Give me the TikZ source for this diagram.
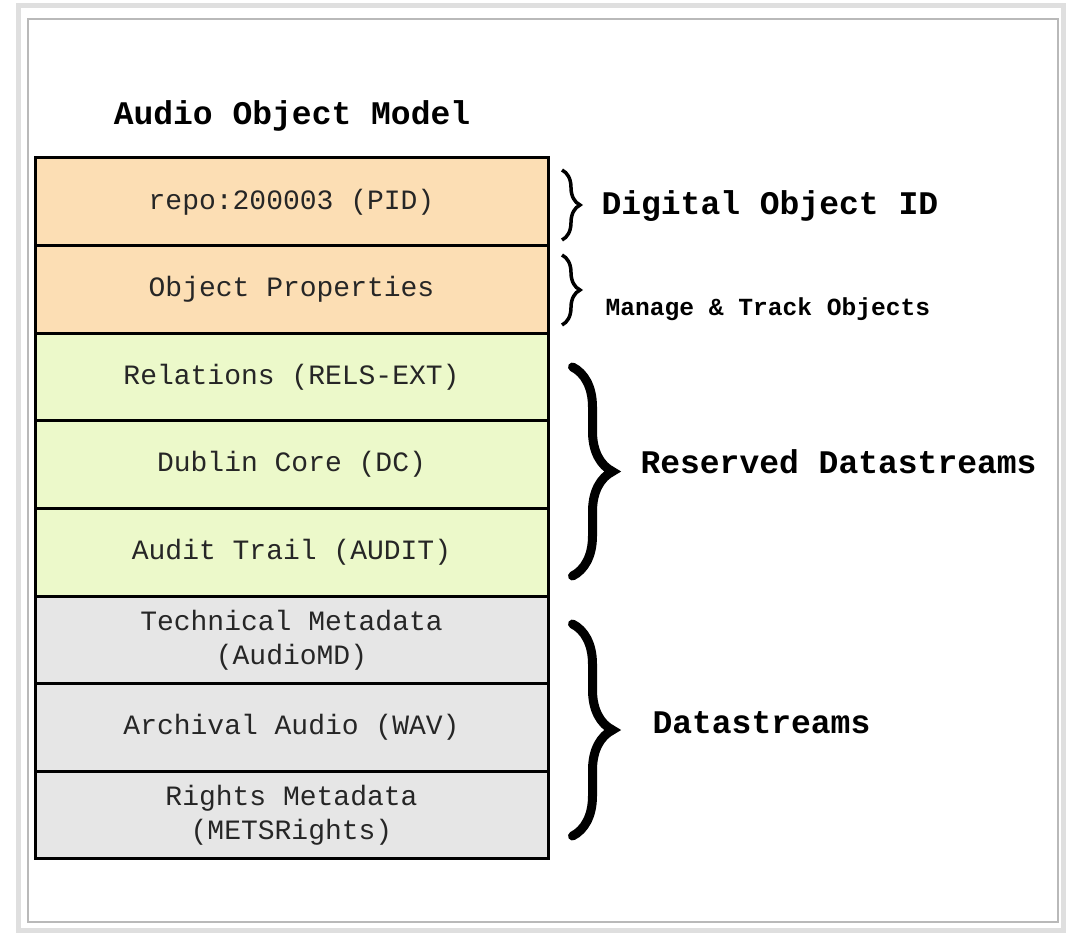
\documentclass[tikz,border=0pt]{standalone}
\usepackage{fontspec}
\newfontfamily\mono{Liberation Mono}
\usetikzlibrary{decorations.pathreplacing}
\definecolor{peach}{RGB}{252,222,180}
\definecolor{lgreen}{RGB}{236,249,202}
\definecolor{lgray}{RGB}{230,230,230}
\begin{document}
\begin{tikzpicture}[x=1pt,y=-1pt,
  layer/.style={draw=black, line width=3pt, minimum width=513pt, minimum height=87.6pt,
    inner sep=0pt, outer sep=0pt, font=\mono\fontsize{28}{34}\selectfont, text=black!85, align=center},
  sidelabel/.style={anchor=base west, font=\mono\bfseries\fontsize{33}{40}\selectfont},
  smalllabel/.style={anchor=base west, font=\mono\bfseries\fontsize{24.6}{30}\selectfont},
  bracesmall/.style={decorate, decoration={brace, amplitude=18pt}, line width=3.5pt},
  bracebig/.style={decorate, decoration={brace, amplitude=40pt}, line width=9pt, line cap=round}]
\useasboundingbox (0,0) rectangle (1066,933);
% frame
\draw[gray!25, line width=5pt] (18.5,6) rectangle (1063.5,930.5);
\draw[gray!55, line width=2.5pt] (28,19) rectangle (1058,922);
% title
\node[anchor=base, font=\mono\bfseries\fontsize{33}{40}\selectfont] (title) at (292,125) {Audio Object Model};
% layers
\node[layer, fill=peach]  (pid)   at (291.5,201.8) {repo:200003 (PID)};
\node[layer, fill=peach]  (props) at (291.5,289.4) {Object Properties};
\node[layer, fill=lgreen] (rels)  at (291.5,377.0) {Relations (RELS-EXT)};
\node[layer, fill=lgreen] (dc)    at (291.5,464.6) {Dublin Core (DC)};
\node[layer, fill=lgreen] (audit) at (291.5,552.3) {Audit Trail (AUDIT)};
\node[layer, fill=lgray]  (tech)  at (291.5,639.9) {Technical Metadata\\(AudioMD)};
\node[layer, fill=lgray]  (wav)   at (291.5,727.5) {Archival Audio (WAV)};
\node[layer, fill=lgray]  (rights) at (291.5,815.1) {Rights Metadata\\(METSRights)};
% braces
\coordinate (b1s) at (562,170);
\coordinate (b1e) at (562,240);
\coordinate (b2s) at (562,255);
\coordinate (b2e) at (562,325);
\coordinate (b3s) at (572.5,367);
\coordinate (b3e) at (572.5,576);
\coordinate (b4s) at (572.5,624);
\coordinate (b4e) at (572.5,836);
\draw[bracesmall] (b1s) -- (b1e);
\draw[bracesmall] (b2s) -- (b2e);
\draw[bracebig] (b3s) -- (b3e);
\draw[bracebig] (b4s) -- (b4e);
% labels
\node[sidelabel] (l1) at (598,215) {Digital Object ID};
\node[smalllabel] (l2) at (602,316) {Manage \& Track Objects};
\node[sidelabel] (l3) at (637,473) {Reserved Datastreams};
\node[sidelabel] (l4) at (649,733) {Datastreams};
\end{tikzpicture}
\end{document}
